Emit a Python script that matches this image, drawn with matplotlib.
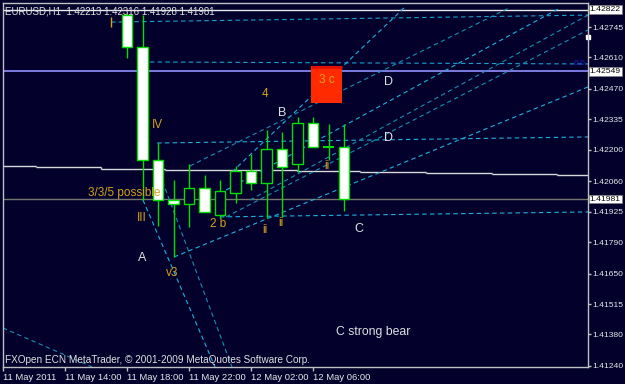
import matplotlib.pyplot as plt
from matplotlib.patches import Rectangle

# hourly bars, index 0 = 11 May 18:00
bars = list(range(15))
opens = [1.42798, 1.42656, 1.42155, 1.41977, 1.41959, 1.42030, 1.41910, 1.42008,
         1.42106, 1.42053, 1.42204, 1.42137, 1.42319, 1.42213, 1.42213]
highs = [1.42807, 1.42800, 1.42230, 1.42066, 1.42137, 1.42088, 1.42066, 1.42128,
         1.42181, 1.42288, 1.42279, 1.42346, 1.42346, 1.42315, 1.42316]
lows = [1.42608, 1.41977, 1.41862, 1.41724, 1.41857, 1.41924, 1.41897, 1.41964,
        1.42021, 1.41897, 1.41902, 1.42101, 1.42212, 1.42155, 1.41928]
closes = [1.42656, 1.42155, 1.41977, 1.41959, 1.42030, 1.41924, 1.42017, 1.42106,
          1.42053, 1.42204, 1.42124, 1.42319, 1.42212, 1.42213, 1.41981]

x_ticks = [-8, -4, 0, 4, 8, 12]
x_labels = ['11 May 2011', '11 May 14:00', '11 May 18:00', '11 May 22:00',
            '12 May 02:00', '12 May 06:00']
y_ticks = [1.42745, 1.42610, 1.42470, 1.42335, 1.42200, 1.42060, 1.41925,
           1.41790, 1.41650, 1.41515, 1.41380, 1.41240]

# horizontal levels
top_level = 1.42822
blue_level = 1.42549
bid = 1.41981

# stepped indicator line
step_x0 = [-8.0, -5.87, -1.68, 2.45, 10.97, 15.03, 19.29, 23.55, 27.74]
step_x1 = [-5.87, -1.68, 2.45, 10.97, 15.03, 19.29, 23.55, 27.74, 29.74]
step_lvl = [1.42128, 1.42124, 1.42115, 1.42110, 1.42106, 1.42101, 1.42097, 1.42092, 1.42088]

# dashed trend lines (bar, price) -> (bar, price)
tl_x0 = [-1.03, 0.97, 1.94, 6.0, 6.77, 4.06, 6.39, 6.39, 3.03, 7.94, 1.03, 1.94, -8.0]
tl_y0 = [1.42767, 1.42590, 1.42230, 1.41902, 1.42101, 1.42128, 1.42021, 1.41902,
         1.41724, 1.41977, 1.41977, 1.42124, 1.41409]
tl_x1 = [29.74, 29.74, 29.74, 29.74, 17.87, 24.65, 27.94, 29.74, 29.74, 29.74, 5.68, 6.77, -2.26]
tl_y1 = [1.42798, 1.42581, 1.42257, 1.41924, 1.42830, 1.42830, 1.42830, 1.42732,
         1.42479, 1.42798, 1.41236, 1.41236, 1.41236]
tl_col = ['#1a9fd0', '#1a9fd0', '#1fb0e0', '#1fb0e0', '#1fb0e0', '#168fb0', '#1fb0e0',
          '#168fb0', '#1fb0e0', '#168fb0', '#1fb0e0', '#168fb0', '#168fb0']

# red box (3 c)
box_x = [11.9, 13.87]
box_y = [1.42408, 1.42572]

bg = '#03012b'
green = '#00e000'
orange = '#d4a21c'
font = 'Liberation Sans'

fig = plt.figure(figsize=(6.25, 3.84), dpi=100, facecolor=bg)
ax = fig.add_axes([0.0048, 0.0443, 0.936, 0.9479])
ax.set_facecolor(bg)
ax.set_xlim(-8.0, 29.74)
ax.set_ylim(1.412356, 1.428517)

# levels
ax.axhline(top_level, color='#e8e8e8', lw=1)
ax.axhline(blue_level, color='#9090ff', lw=1.2)
ax.axhline(bid, color='#76766c', lw=1)
ax.hlines(step_lvl, step_x0, step_x1, color='#d8d8d8', lw=1)
for i in range(len(step_lvl) - 1):
    ax.vlines(step_x1[i], step_lvl[i], step_lvl[i + 1], color='#d8d8d8', lw=1)

for x0, y0, x1, y1, c in zip(tl_x0, tl_y0, tl_x1, tl_y1, tl_col):
    ax.plot([x0, x1], [y0, y1], color=c, lw=0.8, linestyle=(0, (4, 3)))

ax.vlines(-1.03, 1.42745, 1.42790, color=orange, lw=1)

ax.add_patch(Rectangle((box_x[0], box_y[0]), box_x[1] - box_x[0], box_y[1] - box_y[0],
                       facecolor='#ff2a00', edgecolor='none', zorder=2))
ax.hlines(box_y[1] - 0.00004, box_x[0], box_x[1], color='#e01000', lw=2, zorder=2)

# candles
w = 0.65
for x, o, h, l, c in zip(bars, opens, highs, lows, closes):
    ax.vlines(x, l, h, color=green, lw=1, zorder=3)
    if abs(c - o) < 0.00002:
        ax.hlines(o, x - w / 2, x + w / 2, color=green, lw=1.5, zorder=4)
        continue
    fill = 'white' if c < o else bg
    ax.add_patch(Rectangle((x - w / 2, min(o, c)), w, abs(c - o),
                           facecolor=fill, edgecolor=green, lw=1, zorder=4))

# labels on the chart
ax.text(-2.52, 1.42008, '3/3/5 possible', color=orange, fontsize=8.5, family=font,
        va='center', ha='left', zorder=5)
for x, y, s in [(0.97, 1.41897, 'III'), (2.90, 1.41653, 'v3'), (5.87, 1.41870, '2 b'),
                (8.90, 1.41844, 'ii'), (9.94, 1.41875, 'ii'), (12.90, 1.42130, 'ii'),
                (1.94, 1.42310, 'IV'), (8.90, 1.42448, '4'), (12.90, 1.42510, '3 c')]:
    ax.text(x, y, s, color=orange, fontsize=8.5, family=font, ha='center', va='center', zorder=5)
for x, y, s in [(0.97, 1.41720, 'A'), (10.0, 1.42363, 'B'), (16.9, 1.42501, 'D'),
                (16.9, 1.42252, 'D'), (14.97, 1.41848, 'C')]:
    ax.text(x, y, s, color='#e0e0e0', fontsize=9, family=font, ha='center', va='center', zorder=5)
ax.text(15.87, 1.41391, 'C strong bear', color='#e0e0e0', fontsize=8.8, family=font,
        ha='center', va='center', zorder=5)
ax.text(29.2, 1.42585, '0.0', color='#2020d0', fontsize=6, family=font, ha='center', va='center')

ax.text(0.004, 0.978, 'EURUSD,H1  1.42213 1.42316 1.41928 1.41981', transform=ax.transAxes,
        color='#e0e0e0', fontsize=7, family=font, va='center', ha='left', zorder=6)
ax.text(0.004, 0.02, 'FXOpen ECN MetaTrader, \u00a9 2001-2009 MetaQuotes Software Corp.',
        transform=ax.transAxes, color='#e0e0e0', fontsize=7.2, family=font,
        va='center', ha='left', zorder=6)

# axes styling
for s in ax.spines.values():
    s.set_color('#c0c0c0')
    s.set_linewidth(1)
ax.yaxis.tick_right()
ax.set_yticks(y_ticks)
ax.set_yticklabels(['%.5f' % v for v in y_ticks])
ax.set_xticks(x_ticks)
ax.set_xticklabels(x_labels)
ax.tick_params(colors='#c0c0c0', labelcolor='#e8e8e8', labelsize=6.8, length=3, width=1, pad=1)
ax.tick_params(axis='y', labelsize=6.1, length=2, pad=1)
for lbl in ax.get_xticklabels() + ax.get_yticklabels():
    lbl.set_family(font)
for lbl in ax.get_xticklabels():
    lbl.set_ha('left')

for v in [top_level, blue_level, bid]:
    ax.text(1.003, v, '%.5f' % v, transform=ax.get_yaxis_transform(), color='black',
            fontsize=6.1, family=font, va='center', ha='left',
            bbox=dict(facecolor='white', edgecolor='#808080', pad=0.6, lw=0.5))
ax.plot([1.0], [1.42701], marker='s', ms=3, color='white', transform=ax.get_yaxis_transform(),
        clip_on=False)

fig.savefig('out.png', dpi=100, facecolor=bg)
